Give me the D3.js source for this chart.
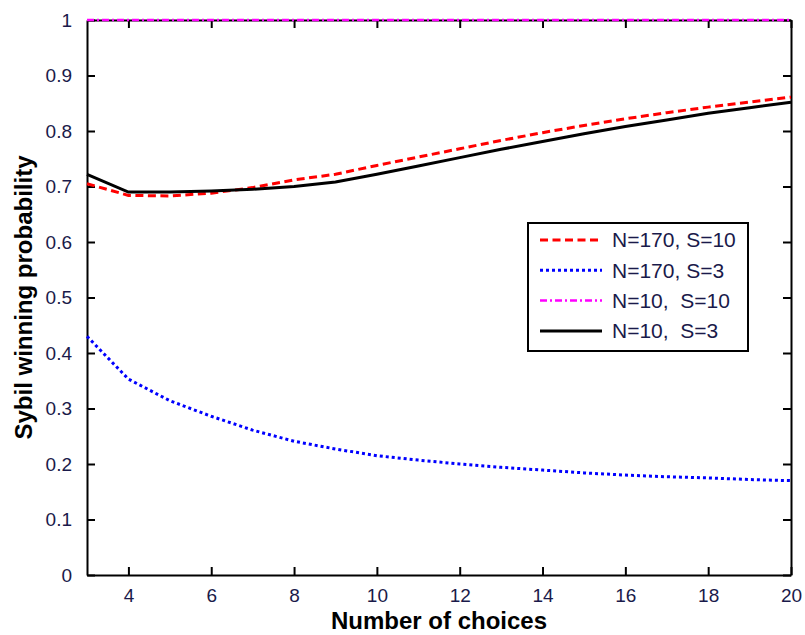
<!DOCTYPE html>
<html>
<head>
<meta charset="utf-8">
<script src="https://cdn.jsdelivr.net/npm/d3@7"></script>
<style>
  html, body { margin: 0; background: #fff; overflow: hidden; }
  svg { display: block; width: 100vw; height: 100vh; }
  text { font-family: Arial, "Liberation Sans", sans-serif; }
</style>
</head>
<body>
<div id="chart"></div>
<script>
// Sybil winning probability vs number of choices

const choices = [3, 4, 5, 6, 7, 8, 9, 10, 11, 12, 13, 14, 15, 16, 17, 18, 19, 20];
const n170s10 = [0.705, 0.684, 0.683, 0.688, 0.698, 0.712, 0.722, 0.738, 0.753, 0.768, 0.783, 0.797, 0.810, 0.822, 0.833, 0.843, 0.852, 0.861];
const n170s3 = [0.430, 0.353, 0.314, 0.286, 0.261, 0.241, 0.227, 0.215, 0.207, 0.200, 0.194, 0.189, 0.184, 0.180, 0.177, 0.175, 0.172, 0.170];
const n10s10 = [1, 1, 1, 1, 1, 1, 1, 1, 1, 1, 1, 1, 1, 1, 1, 1, 1, 1];
const n10s3 = [0.722, 0.690, 0.690, 0.692, 0.695, 0.700, 0.708, 0.722, 0.737, 0.752, 0.767, 0.781, 0.795, 0.808, 0.820, 0.832, 0.842, 0.852];
const xTicks = [4, 6, 8, 10, 12, 14, 16, 18, 20];
const yTicks = [0, 0.1, 0.2, 0.3, 0.4, 0.5, 0.6, 0.7, 0.8, 0.9, 1];

const seriesNames = ["N=170, S=10", "N=170, S=3", "N=10,  S=10", "N=10,  S=3"];
const seriesValues = [n170s10, n170s3, n10s10, n10s3];
const seriesStyle = [
  { color: "#ff0000", width: 3, dash: "8,4.5" },
  { color: "#0000ff", width: 3, dash: "3,3" },
  { color: "#ff00ff", width: 2.5, dash: "7,3,2,3" },
  { color: "#000000", width: 3, dash: null }
];

const width = 805;
const height = 635;
const margin = { top: 20, right: 14, bottom: 60, left: 87 };
const innerWidth = 791 - margin.left;
const innerHeight = 575 - margin.top;

const svg = d3.select("#chart").append("svg")
  .attr("viewBox", `0 0 ${width} ${height}`)
  .attr("preserveAspectRatio", "xMidYMid meet");

const chart = svg.append("g")
  .attr("transform", `translate(${margin.left},${margin.top})`);

const x = d3.scaleLinear().domain([3, 20]).range([0, innerWidth]);
const y = d3.scaleLinear().domain([0, 1]).range([innerHeight, 0]);

const tickLen = 8;

// axes, MATLAB style ticks pointing inward on all four sides
const xAxis = chart.append("g")
  .attr("transform", `translate(0,${innerHeight})`)
  .call(d3.axisBottom(x).tickValues(xTicks).tickSize(-tickLen).tickPadding(tickLen + 6).tickSizeOuter(0));
const xTop = chart.append("g")
  .call(d3.axisTop(x).tickValues(xTicks).tickSize(-tickLen).tickSizeOuter(0));
const yAxis = chart.append("g")
  .call(d3.axisLeft(y).tickValues(yTicks).tickSize(-tickLen).tickPadding(tickLen + 7).tickSizeOuter(0)
    .tickFormat(d => d === 0 || d === 1 ? d3.format("d")(d) : d3.format(".1f")(d)));
const yRight = chart.append("g")
  .attr("transform", `translate(${innerWidth},0)`)
  .call(d3.axisRight(y).tickValues(yTicks).tickSize(-tickLen).tickSizeOuter(0));

// the mirrored axes only carry tick marks
xTop.selectAll(".tick text").remove();
yRight.selectAll(".tick text").remove();

[xAxis, xTop, yAxis, yRight].forEach(a => {
  a.attr("font-size", 19);
  a.select(".domain").attr("stroke", "#000").attr("stroke-width", 2);
  a.selectAll(".tick line").attr("stroke", "#000").attr("stroke-width", 2);
  a.selectAll(".tick text").attr("fill", "#1a1a4a");
});

// lines
const line = d3.line().x((d, i) => x(choices[i])).y(d => y(d));

seriesValues.forEach((vals, i) => {
  const s = seriesStyle[i];
  chart.append("path")
    .datum(vals)
    .attr("fill", "none")
    .attr("stroke", s.color)
    .attr("stroke-width", s.width)
    .attr("stroke-dasharray", s.dash)
    .attr("d", line);
});

// axis titles
chart.append("text")
  .attr("x", innerWidth / 2)
  .attr("y", innerHeight + 54)
  .attr("text-anchor", "middle")
  .attr("font-size", 24)
  .attr("font-weight", "bold")
  .text("Number of choices");

chart.append("text")
  .attr("transform", `translate(-55, ${innerHeight / 2}) rotate(-90)`)
  .attr("text-anchor", "middle")
  .attr("font-size", 24)
  .attr("font-weight", "bold")
  .text("Sybil winning probability");

// legend
const legend = svg.append("g").attr("transform", "translate(528,223)");
legend.append("rect")
  .attr("width", 220)
  .attr("height", 128)
  .attr("fill", "#fff")
  .attr("stroke", "#000")
  .attr("stroke-width", 2);

seriesNames.forEach((name, i) => {
  const s = seriesStyle[i];
  const row = legend.append("g").attr("transform", `translate(0,${17 + i * 30.3})`);
  row.append("line")
    .attr("x1", 12).attr("x2", 74)
    .attr("stroke", s.color)
    .attr("stroke-width", s.width)
    .attr("stroke-dasharray", s.dash);
  row.append("text")
    .attr("x", 84)
    .attr("dy", "0.35em")
    .attr("fill", "#1a1a4a")
    .attr("font-size", 21)
    .attr("xml:space", "preserve")
    .style("white-space", "pre")
    .text(name);
});
</script>
</body>
</html>
